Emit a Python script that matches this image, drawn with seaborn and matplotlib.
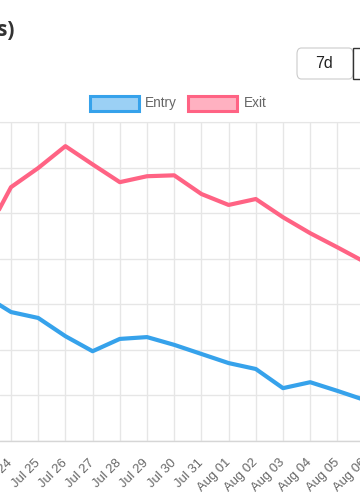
import matplotlib
matplotlib.use("Agg")
import matplotlib.pyplot as plt
import seaborn as sns
import pandas as pd
from matplotlib.patches import Rectangle, FancyBboxPatch

dates = ["Jul 23", "Jul 24", "Jul 25", "Jul 26", "Jul 27", "Jul 28", "Jul 29", "Jul 30",
         "Jul 31", "Aug 01", "Aug 02", "Aug 03", "Aug 04", "Aug 05", "Aug 06"]
entry = [32.0, 28.3, 27.0, 23.0, 19.7, 22.4, 22.8, 21.1, 19.1, 17.1, 15.8, 11.6, 12.9, 11.0, 9.0]
exit_ = [44.5, 55.7, 59.9, 64.7, 60.7, 56.8, 58.1, 58.3, 54.2, 51.8, 53.1, 49.1, 45.6, 42.5, 39.3]
series_names = ["Entry", "Exit"]
line_colors = ["#36A2EB", "#FF6384"]
fill_colors = ["#9BD0F5", "#FFB1C1"]
title_tail = "s)"
button_label = "7d"

W, H = 360, 504
sns.set_style("white")
plt.rcParams['font.family'] = ['Liberation Sans', 'DejaVu Sans']

fig = plt.figure(figsize=(W / 100, H / 100), dpi=100)

def fx(px):
    return px / W

def fy(py):
    return 1 - py / H

# axes spans px 0..380 horizontally (extends past the right edge, like the cropped original)
AXW = 380
ax = fig.add_axes([0, fy(441), AXW / W, fy(122) - fy(441)])

df = pd.DataFrame({
    "idx": list(range(len(dates))) * 2,
    "value": entry + exit_,
    "series": [series_names[0]] * len(dates) + [series_names[1]] * len(dates),
})
sns.lineplot(data=df, x="idx", y="value", hue="series", palette=dict(zip(series_names, line_colors)),
             linewidth=3, ax=ax, legend=False)

ax.set_xticks(range(len(dates)))
ax.set_xticklabels(dates, rotation=45, ha="right", va="center", rotation_mode="anchor",
                   fontsize=9.4, color="#666666")
ax.set_yticks(range(0, 71, 10))
ax.set_yticklabels([])
step = 27.2
x0 = 1 - 11 / step
x1 = 1 + (AXW - 11) / step
ax.set_xlim(x0, x1)
ax.set_ylim(0, 70)
ax.grid(True, color="#e6e6e6", linewidth=1)
ax.tick_params(axis="x", length=3.3, color="#e6e6e6", width=1, pad=11)
ax.tick_params(axis="y", length=0)
ax.set_xlabel("")
ax.set_ylabel("")
for s in ["left", "right"]:
    ax.spines[s].set_visible(False)
ax.spines["top"].set_color("#e6e6e6")
ax.spines["bottom"].set_color("#d6d6d6")
ax.spines["bottom"].set_linewidth(1)
ax.set_axisbelow(True)

# title tail
fig.text(fx(15), fy(36), title_tail, ha="right", va="baseline", fontsize=15, fontweight="bold",
         color="#333333", family=["Open Sans", "DejaVu Sans"])

# legend
for (bx, tx, name, lc, fc) in [(90, 145, series_names[0], line_colors[0], fill_colors[0]),
                                (188, 244, series_names[1], line_colors[1], fill_colors[1])]:
    fig.patches.append(Rectangle((fx(bx), fy(111)), fx(49), fy(96) - fy(111), facecolor=fc,
                                 edgecolor=lc, linewidth=2.2, transform=fig.transFigure))
    fig.text(fx(tx), fy(103.5), name, ha="left", va="center", fontsize=9.8, color="#666666")

# buttons
fig.patches.append(FancyBboxPatch((fx(297), fy(79)), fx(56), fy(48) - fy(79),
                                  boxstyle="round,pad=0,rounding_size=0.012", facecolor="white",
                                  edgecolor="#cccccc", linewidth=0.8, transform=fig.transFigure))
fig.text(fx(324.5), fy(64), button_label, ha="center", va="center", fontsize=11.5, color="#222222")
fig.patches.append(Rectangle((fx(353), fy(79)), fx(60), fy(48) - fy(79), facecolor="white",
                             edgecolor="#333333", linewidth=1.0, transform=fig.transFigure))

fig.savefig("out.png", dpi=100)
